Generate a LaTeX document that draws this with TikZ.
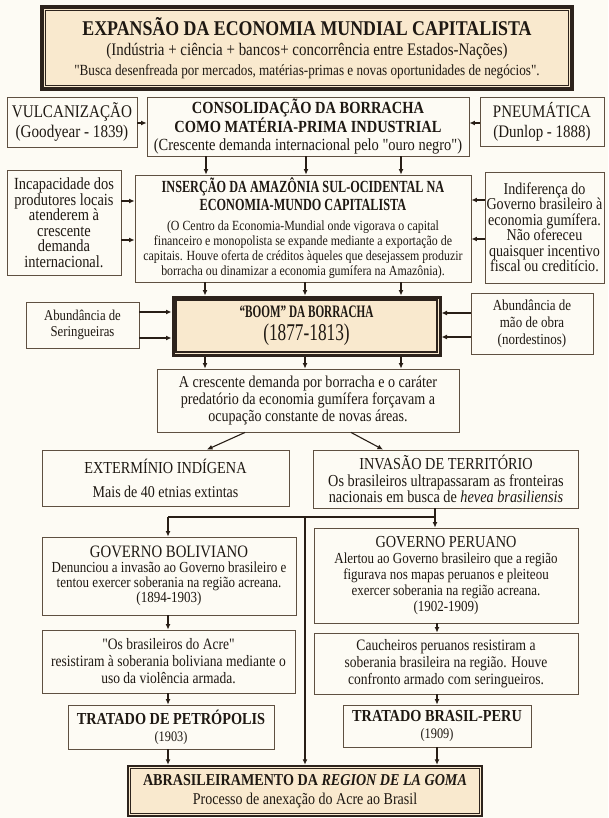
\documentclass[tikz,border=0pt]{standalone}
\usepackage{fontspec}
\setmainfont{Liberation Serif}[Ligatures=TeXOff, FakeStretch=0.85]
\newfontfamily\condf{Liberation Serif}[Ligatures=TeXOff, FakeStretch=0.72]
\newfontfamily\condg{Liberation Serif}[Ligatures=TeXOff, FakeStretch=0.64]
\usetikzlibrary{arrows.meta,calc}
\definecolor{bgc}{RGB}{253,251,244}
\definecolor{tanc}{RGB}{249,233,206}
\definecolor{boxc}{RGB}{95,80,65}
\definecolor{darkc}{RGB}{45,35,28}
\definecolor{arrc}{RGB}{40,30,22}
\definecolor{txtc}{RGB}{30,24,18}
\newcommand\fz[2]{\fontsize{#1}{#2}\selectfont}
\newcommand\innerframe[2]{\draw[darkc, line width=1.1pt] ([shift={(#2,#2)}]#1.north west) rectangle ([shift={(-#2,-#2)}]#1.south east);}
\begin{document}
\begin{tikzpicture}[x=1pt,y=-1pt,
  bx/.style={draw=boxc, line width=0.9pt, fill=bgc, align=center, inner sep=0pt, text=txtc},
  emph/.style={draw=darkc, line width=3pt, fill=tanc, align=center, inner sep=0pt, text=txtc},
  arr/.style={draw=arrc, line width=1.1pt, -{Latex[length=5.5pt,width=5pt]}},
  ln/.style={draw=arrc, line width=1.1pt}]
\fill[bgc] (0,0) rectangle (608,818);
\useasboundingbox (0,0) rectangle (608,818);

% top
\node[emph, line width=3.5pt, minimum width=530pt, minimum height=82pt, font=\fz{15.5}{20}] (top) at (307,48)
 {{\fz{21}{23}\bfseries EXPANSÃO DA ECONOMIA MUNDIAL CAPITALISTA}\\
  {\fz{17.6}{22}(Indústria + ciência + bancos+ concorrência entre Estados-Nações)}\\
  "Busca desenfreada por mercados, matérias-primas e novas oportunidades de negócios".};
\innerframe{top}{5.5}

% row 2
\node[bx, minimum width=130pt, minimum height=50pt, font=\fz{17.8}{20}] (vulc) at (72,122)
 {VULCANIZAÇÃO\\(Goodyear - 1839)};
\node[bx, minimum width=322pt, minimum height=59pt, font=\fz{17}{17.5}] (cons) at (308,126.5)
 {{\bfseries CONSOLIDAÇÃO DA BORRACHA}\\{\bfseries COMO MATÉRIA-PRIMA INDUSTRIAL}\\(Crescente demanda internacional pelo "ouro negro")};
\node[bx, minimum width=124pt, minimum height=49pt, font=\fz{17.6}{20}] (pneu) at (542,121.5)
 {PNEUMÁTICA\\(Dunlop - 1888)};

% row 3
\node[bx, minimum width=114pt, minimum height=105pt, font=\fz{17}{15.5}] (inc) at (64,222.5)
 {Incapacidade dos\\produtores locais\\atenderem à\\crescente\\demanda\\internacional.};
\node[bx, minimum width=336pt, minimum height=107pt, font=\fz{14}{15}] (ins) at (303,228.5)
 {{\condf\fz{17}{17}\bfseries INSERÇÃO DA AMAZÔNIA SUL-OCIDENTAL NA}\\[3pt]
  {\condf\fz{17}{17}\bfseries ECONOMIA-MUNDO CAPITALISTA}\\[5pt]
  (O Centro da Economia-Mundial onde vigorava o capital\\
  financeiro e monopolista se expande mediante a exportação de\\
  capitais. Houve oferta de créditos àqueles que desejassem produzir\\
  borracha ou dinamizar a economia gumífera na Amazônia).};
\node[bx, minimum width=119pt, minimum height=111pt, font=\fz{16.6}{15.5}] (indif) at (544.5,227.5)
 {Indiferença do\\Governo brasileiro à\\economia gumífera.\\Não ofereceu\\quaisquer incentivo\\fiscal ou creditício.};

% row 4
\node[bx, minimum width=113pt, minimum height=46pt, font=\fz{15}{16.5}] (serin) at (82.5,325)
 {Abundância de\\Seringueiras};
\node[emph, minimum width=267pt, minimum height=58pt, font=\condf\fz{24}{23}] (boom) at (306.5,326)
 {{\condg\fz{17.5}{23}\bfseries “BOOM” DA BORRACHA}\\(1877-1813)};
\innerframe{boom}{4.5}
\node[bx, minimum width=122pt, minimum height=61pt, font=\fz{15.3}{17}] (maoobra) at (532,323.5)
 {Abundância de\\mão de obra\\(nordestinos)};

\node[bx, minimum width=302pt, minimum height=63pt, font=\fz{16.6}{17}] (cresc) at (308,400.5)
 {A crescente demanda por borracha e o caráter\\predatório da economia gumífera forçavam a\\ocupação constante de novas áreas.};

% row 5
\node[bx, minimum width=247pt, minimum height=56pt, font=\fz{16.5}{19}] (exterm) at (165.5,478)
 {{\fz{16.8}{19}EXTERMÍNIO INDÍGENA}\\[5pt]Mais de 40 etnias extintas};
\node[bx, minimum width=265pt, minimum height=58pt, font=\fz{16.8}{16.5}] (invas) at (446,479)
 {{\fz{16.8}{18}INVASÃO DE TERRITÓRIO}\\Os brasileiros ultrapassaram as fronteiras\\nacionais em busca de \textit{hevea brasiliensis}};

% lower columns
\node[bx, minimum width=254pt, minimum height=78pt, font=\fz{15.3}{15}] (boliv) at (169,576)
 {{\fz{17.4}{18}GOVERNO BOLIVIANO}\\Denunciou a invasão ao Governo brasileiro e\\tentou exercer soberania na região acreana.\\(1894-1903)};
\node[bx, minimum width=264pt, minimum height=95pt, font=\fz{15.3}{16}] (peru) at (446,575.5)
 {{\fz{16.8}{19}GOVERNO PERUANO}\\Alertou ao Governo brasileiro que a região\\figurava nos mapas peruanos e pleiteou\\exercer soberania na região acreana.\\(1902-1909)};
\node[bx, minimum width=253pt, minimum height=63pt, font=\fz{15.9}{17}] (acre) at (168.5,661.5)
 {"Os brasileiros do Acre"\\resistiram à soberania boliviana mediante o\\uso da violência armada.};
\node[bx, minimum width=264pt, minimum height=61pt, font=\fz{15.9}{17}] (cauch) at (446,663.5)
 {Caucheiros peruanos resistiram a\\soberania brasileira na região. Houve\\confronto armado com seringueiros.};
\node[bx, minimum width=206pt, minimum height=44pt, font=\fz{14.5}{17}] (petro) at (171,727)
 {{\fz{16.8}{18}\bfseries TRATADO DE PETRÓPOLIS}\\(1903)};
\node[bx, minimum width=188pt, minimum height=42pt, font=\fz{14.5}{17}] (brper) at (437,726)
 {{\fz{16.8}{18}\bfseries TRATADO BRASIL-PERU}\\(1909)};

\node[emph, line width=2.5pt, minimum width=354pt, minimum height=50pt, font=\fz{16.5}{19}] (abras) at (305,791)
 {{\fz{16.6}{19}\bfseries ABRASILEIRAMENTO DA \textit{REGION DE LA GOMA}}\\Processo de anexação do Acre ao Brasil};
\innerframe{abras}{4}

% connectors
\draw[arr] ([yshift=-1pt]vulc.east) -- ([yshift=-1pt]vulc.east -| cons.west);
\draw[arr] ([yshift=-1.5pt]pneu.west) -- ([yshift=-1.5pt]pneu.west -| cons.east);
\foreach \dx in {-102,-2,93}
  \draw[arr] ([xshift=\dx pt]cons.south) -- ([xshift=\dx pt]cons.south |- ins.north);
\foreach \dy in {21.5,-17.5}
  \draw[arr] ([yshift=\dy pt]inc.east) -- ([yshift=\dy pt]inc.east -| ins.west);
\foreach \dy in {27.5,-11.5}
  \draw[arr] ([yshift=\dy pt]indif.west) -- ([yshift=\dy pt]indif.west -| ins.east);
\foreach \dx in {-98,2,98}
  \draw[arr] ([xshift=\dx pt]ins.south) -- ([xshift=\dx pt]ins.south |- boom.north);
\foreach \dy in {13,-13}
  \draw[arr] ([yshift=\dy pt]serin.east) -- ([yshift=\dy pt]serin.east -| boom.west);
\foreach \dy in {10.5,-13.5}
  \draw[arr] ([yshift=\dy pt]maoobra.west) -- ([yshift=\dy pt]maoobra.west -| boom.east);
\foreach \dx in {-101.5,-1.5,94.5}
  \draw[arr] ([xshift=\dx pt]boom.south) -- ([xshift=\dx pt]boom.south |- cresc.north);
\draw[arr] ([xshift=-63pt]cresc.south) -- ([xshift=41.5pt]exterm.north);
\draw[arr] ([xshift=43pt]cresc.south) -- ([xshift=-63pt]invas.north);

\coordinate (jR) at ([xshift=-11pt]invas.south |- 0,517);
\coordinate (jL) at ([xshift=-1pt]boliv.north |- jR);
\coordinate (jM) at (abras.north |- jR);
\draw[arr] ([xshift=-11pt]invas.south) -- ([xshift=-11pt]invas.south |- peru.north);
\draw[ln] (jR) -- (jL);
\draw[arr] (jL) -- (jL |- boliv.north);
\draw[arr] (jM) -- (jM |- abras.north);
\draw[arr] ([xshift=-1pt]boliv.south) -- ([xshift=-1pt]boliv.south |- acre.north);
\draw[arr] ([xshift=-0.5pt]acre.south) -- ([xshift=-0.5pt]acre.south |- petro.north);
\draw[arr] ([xshift=-3pt]petro.south) -- ([xshift=-3pt]petro.south |- abras.north);
\draw[arr] ([xshift=-9pt]peru.south) -- ([xshift=-9pt]peru.south |- cauch.north);
\draw[arr] ([xshift=-9pt]cauch.south) -- ([xshift=-9pt]cauch.south |- brper.north);
\draw[arr] (brper.south) -- (brper.south |- abras.north);
\end{tikzpicture}
\end{document}
